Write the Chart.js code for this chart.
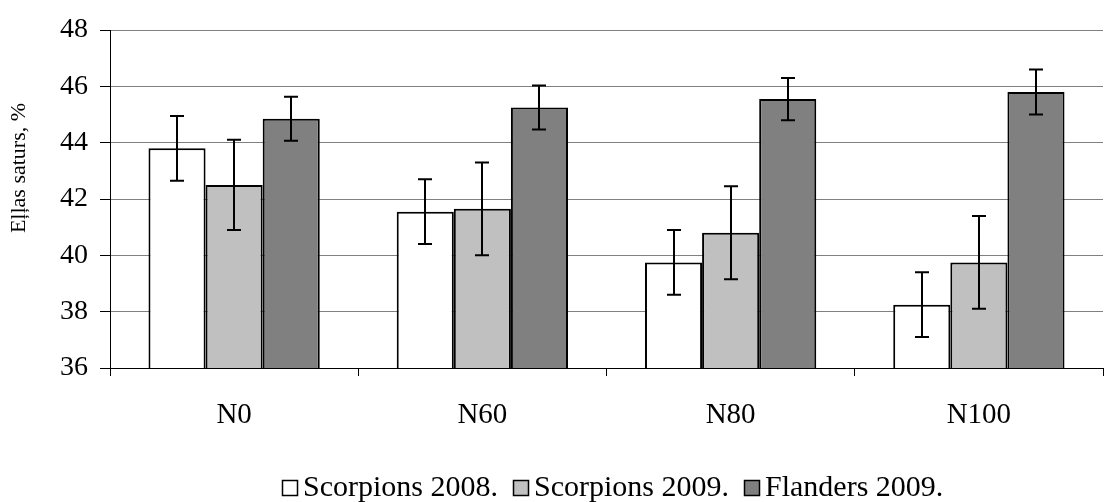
<!DOCTYPE html>
<html>
<head>
<meta charset="utf-8">
<script src="https://cdn.jsdelivr.net/npm/chart.js@4/dist/chart.umd.min.js"></script>
<style>
  html, body { margin: 0; padding: 0; background: #fff; }
  #wrap { width: 1107px; height: 502px; }
</style>
</head>
<body>
<div id="wrap"><canvas id="c"></canvas></div>
<script>
const categories = ["N0", "N60", "N80", "N100"];
const seriesNames = ["Scorpions 2008.", "Scorpions 2009.", "Flanders 2009."];
const scorpions2008 = [43.8, 41.55, 39.75, 38.25];
const scorpions2009 = [42.5, 41.65, 40.8, 39.75];
const flanders2009 = [44.85, 45.25, 45.55, 45.8];
const err2008 = [1.15, 1.15, 1.15, 1.15];
const err2009 = [1.6, 1.65, 1.65, 1.65];
const errFlanders = [0.78, 0.78, 0.75, 0.8];
const yTicks = [36, 38, 40, 42, 44, 46, 48];
const yTitle = "Eļļas saturs, %";

const fillColors = ["#ffffff", "#c0c0c0", "#808080"];
const serif = "'Liberation Serif', 'Times New Roman', serif";

// draws the +/- error whiskers on top of the bars
const errorBars = {
    id: "errorBars",
    afterDatasetsDraw(chart) {
        const ctx = chart.ctx;
        const y = chart.scales.y;
        ctx.save();
        ctx.strokeStyle = "#000";
        ctx.lineWidth = 2;
        chart.data.datasets.forEach((ds, i) => {
            const meta = chart.getDatasetMeta(i);
            meta.data.forEach((bar, j) => {
                const v = ds.data[j];
                const e = ds.errors[j];
                const top = y.getPixelForValue(v + e);
                const bot = y.getPixelForValue(v - e);
                const x = Math.round(bar.x);
                ctx.beginPath();
                ctx.moveTo(x, top);
                ctx.lineTo(x, bot);
                ctx.moveTo(x - 7, top);
                ctx.lineTo(x + 7, top);
                ctx.moveTo(x - 7, bot);
                ctx.lineTo(x + 7, bot);
                ctx.stroke();
            });
        });
        ctx.restore();
    },
};

// y title sits a bit above the middle of the axis in the original
const sideTitle = {
    id: "sideTitle",
    afterDraw(chart) {
        const ctx = chart.ctx;
        ctx.save();
        ctx.translate(25, 168);
        ctx.rotate(-Math.PI / 2);
        ctx.font = "22px " + serif;
        ctx.fillStyle = "#000";
        ctx.textAlign = "center";
        ctx.textBaseline = "alphabetic";
        ctx.fillText(yTitle, 0, 0);
        ctx.restore();
    },
};

// legend row: small box, tight gap, text (the built-in one spaces it too wide)
const bottomLegend = {
    id: "bottomLegend",
    afterDraw(chart) {
        const ctx = chart.ctx;
        ctx.save();
        ctx.font = "30px " + serif;
        ctx.textBaseline = "alphabetic";
        let x = 282;
        chart.data.datasets.forEach((ds) => {
            ctx.fillStyle = ds.backgroundColor;
            ctx.fillRect(x, 480, 16, 16);
            ctx.strokeStyle = "#000";
            ctx.lineWidth = 1.5;
            ctx.strokeRect(x + 0.5, 480.5, 15, 15);
            ctx.fillStyle = "#000";
            ctx.fillText(ds.label, x + 21, 496);
            x += 21 + ctx.measureText(ds.label).width + 15;
        });
        ctx.restore();
    },
};

const values = [scorpions2008, scorpions2009, flanders2009];
const errors = [err2008, err2009, errFlanders];

new Chart(document.getElementById("c"), {
    type: "bar",
    data: {
        labels: categories,
        datasets: seriesNames.map((name, i) => ({
            label: name,
            data: values[i],
            errors: errors[i],
            backgroundColor: fillColors[i],
            borderColor: "#000",
            borderWidth: 2,
            borderSkipped: false,
            barPercentage: 1,
            categoryPercentage: 0.69,
        })),
    },
    options: {
        responsive: true,
        maintainAspectRatio: false,
        animation: false,
        layout: {padding: {top: 30, right: 4, left: 0, bottom: 0}},
        plugins: {
            tooltip: {enabled: false},
            legend: {display: false},
        },
        scales: {
            x: {
                grid: {
                    offset: true,
                    drawOnChartArea: false,
                    tickLength: 8,
                    tickColor: "#000",
                },
                border: {color: "#000", width: 1},
                ticks: {
                    color: "#000",
                    font: {family: serif, size: 29},
                    padding: 22,
                },
                afterFit(scale) {
                    scale.height = 134;
                },
            },
            y: {
                min: 36,
                max: 48,
                afterBuildTicks(scale) {
                    scale.ticks = yTicks.map((v) => ({value: v}));
                },
                grid: {
                    color: "#808080",
                    tickColor: "#000",
                    tickLength: 10,
                },
                border: {color: "#000", width: 1},
                ticks: {
                    color: "#000",
                    font: {family: serif, size: 28},
                    padding: 12,
                },
                afterFit(scale) {
                    scale.width = 110;
                },
            },
        },
    },
    plugins: [errorBars, sideTitle, bottomLegend],
});
</script>
</body>
</html>
